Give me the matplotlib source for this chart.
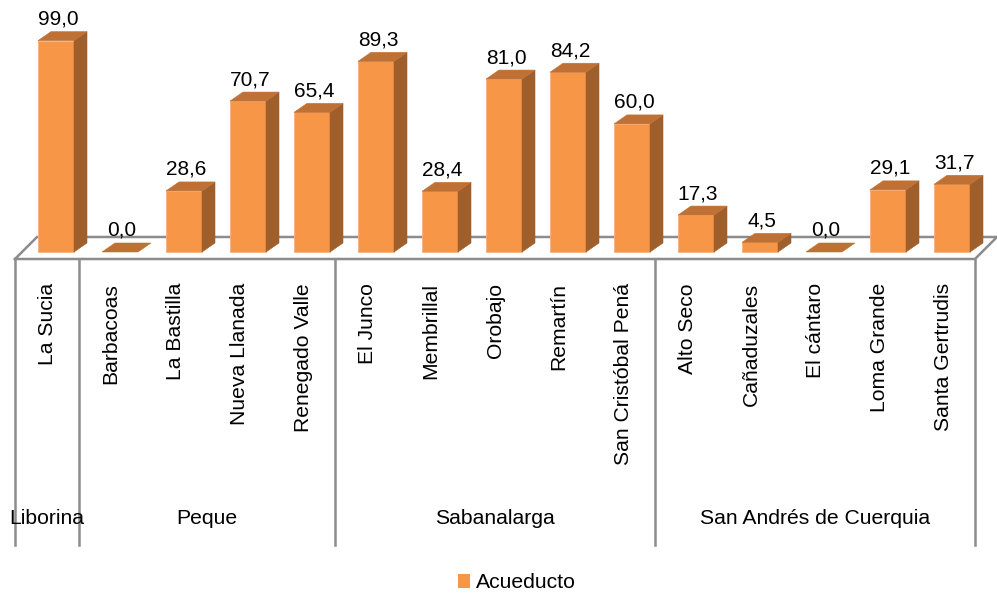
import matplotlib
matplotlib.use("Agg")
import numpy as np
import matplotlib.pyplot as plt
from matplotlib.patches import Polygon, Rectangle, Patch

# ---------------- data ----------------
groups = ["Liborina", "Peque", "Sabanalarga", "San Andrés de Cuerquia"]
group_sizes = [1, 4, 5, 5]
veredas = ["La Sucia", "Barbacoas", "La Bastilla", "Nueva Llanada", "Renegado Valle",
           "El Junco", "Membrillal", "Orobajo", "Remartín", "San Cristóbal Pená",
           "Alto Seco", "Cañaduzales", "El cántaro", "Loma Grande", "Santa Gertrudis"]
acueducto = [99.0, 0.0, 28.6, 70.7, 65.4,
             89.3, 28.4, 81.0, 84.2, 60.0,
             17.3, 4.5, 0.0, 29.1, 31.7]
series_name = "Acueducto"

# ---------------- layout (pixels) ----------------
W, H, DPI = 997, 594, 100
X0_PX = 47          # pixel x of slot centre for category 0
STEP_PX = 64        # pixels per category
BASE_PY = 252       # pixel y (from top) of value 0 at bar front
PX_PER_UNIT = 2.135 # pixels per value unit

plt.rcParams['font.family'] = ['Liberation Sans', 'DejaVu Sans']
FS = 15.2
FS_VAL = 15.0

fig = plt.figure(figsize=(W / DPI, H / DPI), dpi=DPI)
ax = fig.add_axes([0, 0, 1, 1])
ax.set_xlim((0 - X0_PX) / STEP_PX, (W - X0_PX) / STEP_PX)
ax.set_ylim((BASE_PY - H) / PX_PER_UNIT, BASE_PY / PX_PER_UNIT)
ax.axis('off')

def px_x(p):
    return p / STEP_PX

def px_y(p):
    return p / PX_PER_UNIT

BAR_W = px_x(36)
BAR_SHIFT = px_x(9)
DX, DY = px_x(13), px_y(9)
FLOOR_FRONT = px_y(-7)
FLOOR_D = 22
FRONT_C = '#F79646'
SIDE_C = '#9E5F2D'
TOP_C = '#BF7135'
LINE_C = '#8C8C8C'

n = len(veredas)
xs = np.arange(n)

# floor
x_left, x_right = -0.5, n - 0.5
fl = [(x_left, FLOOR_FRONT), (x_right, FLOOR_FRONT),
      (x_right + px_x(FLOOR_D), FLOOR_FRONT + px_y(FLOOR_D)),
      (x_left + px_x(FLOOR_D), FLOOR_FRONT + px_y(FLOOR_D)), (x_left, FLOOR_FRONT)]
flx, fly = zip(*fl)
ax.plot(flx, fly, color=LINE_C, lw=1.8, zorder=1, solid_joinstyle='miter')

# bars
for i, v in zip(xs, acueducto):
    xl = i + BAR_SHIFT - BAR_W / 2
    xr = i + BAR_SHIFT + BAR_W / 2
    if v > 0:
        ax.add_patch(Rectangle((xl, 0), BAR_W, v, facecolor=FRONT_C,
                               edgecolor='#FAB27A', lw=0.6, zorder=3))
        ax.add_patch(Polygon([(xr, 0), (xr + DX, DY), (xr + DX, v + DY), (xr, v)],
                             closed=True, facecolor=SIDE_C, edgecolor=SIDE_C,
                             lw=0.4, zorder=3))
    ax.add_patch(Polygon([(xl, v), (xr, v), (xr + DX, v + DY), (xl + DX, v + DY)],
                         closed=True, facecolor=TOP_C, edgecolor=TOP_C,
                         lw=0.4, zorder=3))
    ax.text(i + BAR_SHIFT + px_x(2), v + DY + px_y(7), f"{v:.1f}".replace('.', ','),
            ha='center', va='baseline', fontsize=FS_VAL, color='black', zorder=4)

# category separators
bounds = np.concatenate([[0], np.cumsum(group_sizes)]) - 0.5
for b in bounds:
    ax.plot([b, b], [FLOOR_FRONT, px_y(BASE_PY - 545)], color=LINE_C, lw=1.8, zorder=1)

# category labels
for i, name in zip(xs, veredas):
    ax.text(i, px_y(BASE_PY - 283), name, rotation=90, ha='center', va='top',
            fontsize=FS, color='black')

# group labels
for g, a, b in zip(groups, bounds[:-1], bounds[1:]):
    ax.text((a + b) / 2, px_y(BASE_PY - 519), g, ha='center', va='center',
            fontsize=FS, color='black')

# legend
handle = Patch(facecolor=FRONT_C, edgecolor='none', label=series_name)
ax.legend(handles=[handle], loc='center', bbox_to_anchor=(517 / W, 1 - 583 / H),
          frameon=False, fontsize=FS, handlelength=0.55, handleheight=0.65,
          handletextpad=0.3, borderpad=0, borderaxespad=0)

fig.savefig('out.png', dpi=DPI)
